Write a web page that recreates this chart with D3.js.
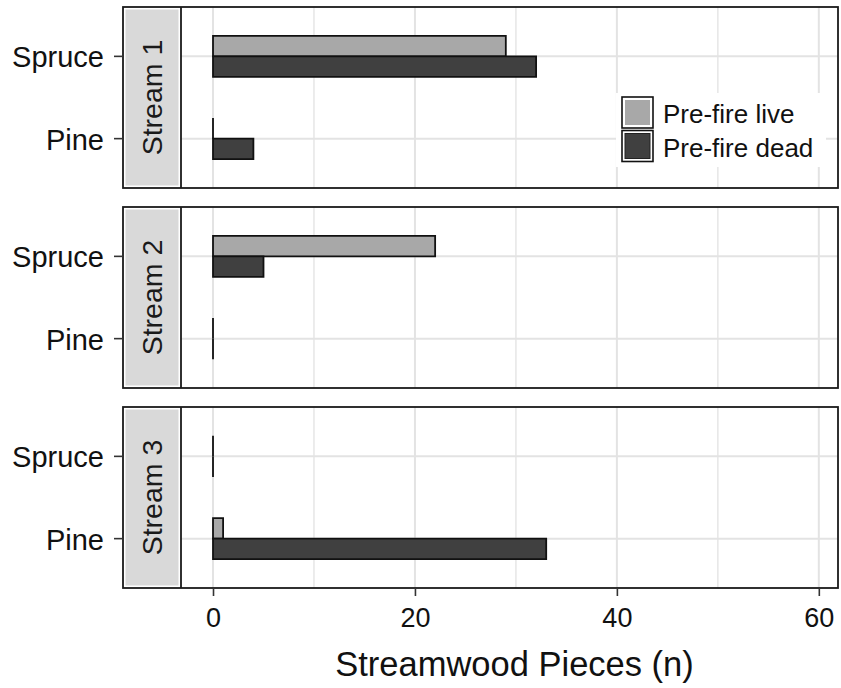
<!DOCTYPE html>
<html><head><meta charset="utf-8">
<script src="https://cdn.jsdelivr.net/npm/d3@7"></script>
<style>html,body{margin:0;padding:0;background:#fff}svg{display:block}</style>
</head><body>
<script>
const streams = ["Stream 1", "Stream 2", "Stream 3"];
const species = ["Spruce", "Pine"];
const seriesNames = ["Pre-fire live", "Pre-fire dead"];
const liveValues = [[29, 0], [22, 0], [0, 1]];
const deadValues = [[32, 4], [5, 0], [0, 33]];
const xTicks = [0, 20, 40, 60];
const xMinor = [10, 30, 50];
const xTitle = "Streamwood Pieces (n)";

const W = 841, H = 688;
const font = "'Liberation Sans', Arial, sans-serif";
const colors = {"Pre-fire live": "#a8a8a8", "Pre-fire dead": "#404040"};

const svg = d3.select("body").append("svg").attr("width", W).attr("height", H);
svg.append("rect").attr("width", W).attr("height", H).attr("fill", "#fff");

const outerL = 123, stripR = 181, plotR = 838;
const panelTops = [7, 207, 407], panelH = 181;

const x = d3.scaleLinear().domain([-3.17, 61.9]).range([stripR, plotR]);

streams.forEach((s, i) => {
  const top = panelTops[i];
  const y = d3.scalePoint().domain(species).range([top, top + panelH]).padding(0.6);
  const step = y.step();
  const bh = step * 0.25;
  const g = svg.append("g");
  g.append("rect").attr("x", stripR).attr("y", top).attr("width", plotR - stripR).attr("height", panelH).attr("fill", "#fff");
  g.selectAll(".minor").data(xMinor).enter().append("line")
    .attr("x1", d => x(d)).attr("x2", d => x(d)).attr("y1", top).attr("y2", top + panelH)
    .attr("stroke", "#e6e6e6").attr("stroke-width", 1.5);
  g.selectAll(".major").data(xTicks).enter().append("line")
    .attr("x1", d => x(d)).attr("x2", d => x(d)).attr("y1", top).attr("y2", top + panelH)
    .attr("stroke", "#e3e3e3").attr("stroke-width", 2);
  g.selectAll(".hmaj").data(species).enter().append("line")
    .attr("x1", stripR).attr("x2", plotR).attr("y1", d => y(d)).attr("y2", d => y(d))
    .attr("stroke", "#e3e3e3").attr("stroke-width", 2);
  const bars = [];
  species.forEach((sp, j) => {
    bars.push({s: "Pre-fire live", v: liveValues[i][j], y0: y(sp) - bh, y1: y(sp)});
    bars.push({s: "Pre-fire dead", v: deadValues[i][j], y0: y(sp), y1: y(sp) + bh});
  });
  g.selectAll(".bar").data(bars).enter().append("path")
    .attr("d", d => `M${x(0)},${d.y0}H${x(d.v)}V${d.y1}H${x(0)}Z`)
    .attr("fill", d => colors[d.s]).attr("stroke", "#111").attr("stroke-width", 1.8)
    .attr("stroke-linejoin", "miter");
  g.append("rect").attr("x", outerL).attr("y", top).attr("width", stripR - outerL).attr("height", panelH)
    .attr("fill", "#fff");
  g.append("rect").attr("x", outerL + 2.5).attr("y", top + 2.5).attr("width", stripR - outerL - 5).attr("height", panelH - 5)
    .attr("fill", "#d9d9d9");
  g.append("text").attr("transform", `translate(${(outerL + stripR) / 2 + 10},${top + panelH / 2}) rotate(-90)`)
    .attr("text-anchor", "middle").attr("font-family", font).attr("font-size", 28.5).attr("fill", "#1a1a1a")
    .text(s);
  g.append("rect").attr("x", outerL).attr("y", top).attr("width", plotR - outerL).attr("height", panelH)
    .attr("fill", "none").attr("stroke", "#1a1a1a").attr("stroke-width", 1.8);
  g.append("line").attr("x1", stripR).attr("x2", stripR).attr("y1", top).attr("y2", top + panelH)
    .attr("stroke", "#1a1a1a").attr("stroke-width", 1.8);
  const ya = g.append("g");
  species.forEach(sp => {
    ya.append("line").attr("x1", outerL - 9).attr("x2", outerL).attr("y1", y(sp)).attr("y2", y(sp))
      .attr("stroke", "#333").attr("stroke-width", 1.6);
    ya.append("text").attr("x", outerL - 19).attr("y", y(sp) + 11).attr("text-anchor", "end")
      .attr("font-family", font).attr("font-size", 29).attr("fill", "#111").text(sp);
  });
  if (i === 0) {
    const lg = g.append("g");
    lg.append("rect").attr("x", 616).attr("y", 93).attr("width", 210).attr("height", 74).attr("fill", "#fff");
    seriesNames.forEach((n, k) => {
      const ky = 97 + k * 33.5;
      lg.append("rect").attr("x", 622).attr("y", ky).attr("width", 31).attr("height", 31)
        .attr("fill", "#fff").attr("stroke", "#111").attr("stroke-width", 1.6);
      lg.append("rect").attr("x", 625).attr("y", ky + 3).attr("width", 25).attr("height", 25)
        .attr("fill", colors[n]).attr("stroke", k === 1 ? "#222" : "none").attr("stroke-width", 1);
      lg.append("text").attr("x", 663).attr("y", ky + 26).attr("font-family", font).attr("font-size", 26)
        .attr("fill", "#111").text(n);
    });
  }
});

const bottom = panelTops[2] + panelH;
const xa = svg.append("g").attr("transform", `translate(0,${bottom})`)
  .call(d3.axisBottom(x).tickValues(xTicks).tickSize(8).tickPadding(12).tickFormat(d3.format("d")));
xa.select(".domain").remove();
xa.selectAll(".tick line").attr("stroke", "#333").attr("stroke-width", 1.6);
xa.selectAll(".tick text").attr("font-family", font).attr("font-size", 27).attr("fill", "#111");

svg.append("text").attr("x", (stripR + plotR) / 2 + 5).attr("y", 676).attr("text-anchor", "middle")
  .attr("font-family", font).attr("font-size", 34.5).attr("fill", "#111").text(xTitle);
</script>
</body></html>
